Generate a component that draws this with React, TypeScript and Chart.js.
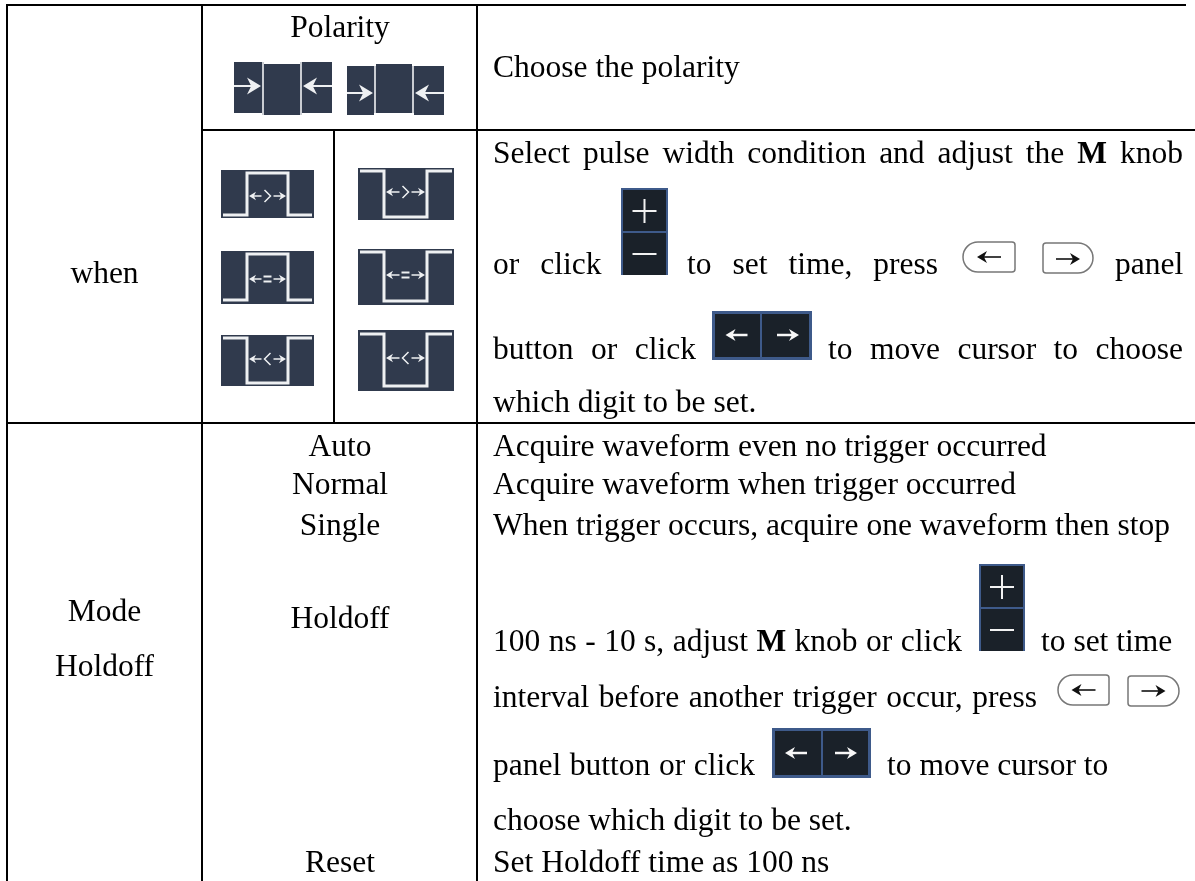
import React, { useEffect, useRef } from "react";
import { Chart, registerables } from "chart.js";

Chart.register(...registerables);

const WIDTH = 1195;
const HEIGHT = 881;
const FONT_SIZE = 31.5;
const FONT_FAMILY = '"Liberation Serif", serif';

// Table text
const conditionLabel = "when";
const polarityLabel = "Polarity";
const polarityNote = "Choose the polarity";
const modeLabels = ["Mode", "Holdoff"];
const modeNames = ["Auto", "Normal", "Single", "Holdoff", "Reset"];
const modeNotes = [
  "Acquire waveform even no trigger occurred",
  "Acquire waveform when trigger occurred",
  "When trigger occurs, acquire one waveform then stop",
  "Set Holdoff time as 100 ns",
];
const boldKey = "M";
const pulseSymbols = [">", ">", "=", "=", "<", "<"];

type Part = [string, boolean];
type Run = { parts: Part[]; x: number; y: number; end?: number };

const runs: Run[] = [
  { parts: [["Select pulse width condition and adjust the ", false], [boldKey, true], [" knob", false]], x: 493, y: 163, end: 1183 },
  { parts: [["or click", false]], x: 493, y: 274, end: 601.5 },
  { parts: [["to set time, press", false]], x: 687, y: 274, end: 938 },
  { parts: [["panel", false]], x: 1115, y: 274 },
  { parts: [["button or click", false]], x: 493, y: 359, end: 696 },
  { parts: [["to move cursor to choose", false]], x: 828, y: 359, end: 1183 },
  { parts: [["which digit to be set.", false]], x: 493, y: 412 },
  { parts: [["100 ns - 10 s, adjust ", false], [boldKey, true], [" knob or click", false]], x: 493, y: 651, end: 962 },
  { parts: [["to set time", false]], x: 1041, y: 651 },
  { parts: [["interval before another trigger occur, press", false]], x: 493, y: 707, end: 1037 },
  { parts: [["panel button or click", false]], x: 493, y: 775, end: 755 },
  { parts: [["to move cursor to", false]], x: 887, y: 775 },
  { parts: [["choose which digit to be set.", false]], x: 493, y: 830 },
];

// Table rules: x1, y1, x2, y2
const rules: number[][] = [
  [7, 5, 1185, 5],
  [202, 130, 1195, 130],
  [7, 423, 1195, 423],
  [7, 5, 7, 881],
  [202, 5, 202, 881],
  [334, 130, 334, 423],
  [477, 5, 477, 881],
];

const centredA = 104.5;
const centredB = 340;

const labelPlacements = [
  { t: polarityLabel, x: centredB, y: 37 },
  { t: conditionLabel, x: centredA, y: 283 },
  { t: modeLabels[0], x: centredA, y: 621 },
  { t: modeLabels[1], x: centredA, y: 676 },
  { t: modeNames[0], x: centredB, y: 456 },
  { t: modeNames[1], x: centredB, y: 494 },
  { t: modeNames[2], x: centredB, y: 535 },
  { t: modeNames[3], x: centredB, y: 628 },
  { t: modeNames[4], x: centredB, y: 872 },
];
const notePlacements = [
  { t: polarityNote, x: 493, y: 77 },
  { t: modeNotes[0], x: 493, y: 456 },
  { t: modeNotes[1], x: 493, y: 494 },
  { t: modeNotes[2], x: 493, y: 535 },
  { t: modeNotes[3], x: 493, y: 872 },
];

const PANEL = "#303a4d";
const TRACE = "#eef0f2";
const BTN = "#1a2129";
const BTN_EDGE = "#3e5a8a";

const pulses = [
  { l: 221, r: 314, t: 170, b: 218, hi: 173, lo: 215, a: 247, c: 288, up: true, ay: 196 },
  { l: 358, r: 454, t: 168, b: 220, hi: 171, lo: 217, a: 384, c: 427, up: false, ay: 192 },
  { l: 221, r: 314, t: 251, b: 304, hi: 254, lo: 300, a: 247, c: 288, up: true, ay: 279 },
  { l: 358, r: 454, t: 249, b: 305, hi: 252, lo: 301, a: 384, c: 427, up: false, ay: 275 },
  { l: 221, r: 314, t: 335, b: 386, hi: 338, lo: 383, a: 247, c: 288, up: false, ay: 359 },
  { l: 358, r: 454, t: 330, b: 391, hi: 334, lo: 386, a: 384, c: 427, up: false, ay: 358 },
];
const polarityIcons = [
  { x: [234, 262, 264, 300, 302, 332], oT: 62, oB: 113, mT: 64, mB: 115, ay: 86 },
  { x: [347, 374, 376, 412, 414, 444], oT: 66, oB: 115, mT: 64, mB: 113, ay: 93 },
];
const stepButtons = [
  { l: 621, r: 668, t: 188, m: 232, b: 275, cx: 644.5, py: 211, my: 254 },
  { l: 979, r: 1025, t: 564, m: 608, b: 651, cx: 1002, py: 587, my: 630 },
];
const arrowButtons = [
  { l: 712, r: 812, t: 311, b: 360, m: 761, la: 736.5, ra: 788, y: 335 },
  { l: 772, r: 871, t: 728, b: 778, m: 822, la: 796, ra: 846, y: 753 },
];
const keys = [
  { l: 963, r: 1015, t: 242, b: 272, dir: -1, ay: 257 },
  { l: 1043, r: 1093, t: 243, b: 273, dir: 1, ay: 259 },
  { l: 1058, r: 1109, t: 675, b: 705, dir: -1, ay: 690 },
  { l: 1128, r: 1179, t: 676, b: 706, dir: 1, ay: 691 },
];

const tablePlugin = {
  id: "tableContent",
  afterDatasetsDraw(chart: any) {
    const ctx: CanvasRenderingContext2D = chart.ctx;
    const px = (v: number) => chart.scales.x.getPixelForValue(v);
    const py = (v: number) => chart.scales.y.getPixelForValue(v);
    const rect = (l: number, t: number, r: number, b: number, fill: string) => {
      ctx.fillStyle = fill;
      ctx.fillRect(px(l), py(t), px(r) - px(l), py(b) - py(t));
    };
    const poly = (pts: number[][], color: string, w: number) => {
      ctx.strokeStyle = color;
      ctx.lineWidth = w;
      ctx.lineJoin = "miter";
      ctx.beginPath();
      pts.forEach(([x, y], i) => (i ? ctx.lineTo(px(x), py(y)) : ctx.moveTo(px(x), py(y))));
      ctx.stroke();
    };
    const arrow = (x1: number, x2: number, y: number, head: number, color: string, w: number) => {
      const d = x2 > x1 ? 1 : -1;
      poly([[x1, y], [x2 - d * head * 0.5, y]], color, w);
      ctx.fillStyle = color;
      ctx.beginPath();
      ctx.moveTo(px(x2), py(y));
      ctx.lineTo(px(x2 - d * head), py(y - head * 0.6));
      ctx.lineTo(px(x2 - d * head * 0.7), py(y));
      ctx.lineTo(px(x2 - d * head), py(y + head * 0.6));
      ctx.closePath();
      ctx.fill();
    };

    ctx.save();
    // polarity icons
    polarityIcons.forEach((p) => {
      rect(p.x[0], p.oT, p.x[1], p.oB, PANEL);
      rect(p.x[2], p.mT, p.x[3], p.mB, PANEL);
      rect(p.x[4], p.oT, p.x[5], p.oB, PANEL);
      poly([[p.x[1] + 1, p.oT], [p.x[1] + 1, p.mB]], "#c9ccd2", 2);
      poly([[p.x[3] + 1, p.oT], [p.x[3] + 1, p.mB]], "#c9ccd2", 2);
      arrow(p.x[0], p.x[1] - 1, p.ay, 14, TRACE, 2);
      arrow(p.x[5], p.x[4] + 1, p.ay, 14, TRACE, 2);
    });
    // pulse condition icons
    pulses.forEach((p, i) => {
      rect(p.l, p.t, p.r, p.b, PANEL);
      const a = p.up ? p.lo : p.hi;
      const c = p.up ? p.hi : p.lo;
      poly([[p.l + 2, a], [p.a, a], [p.a, c], [p.c, c], [p.c, a], [p.r - 2, a]], TRACE, 3);
      const mid = (p.a + p.c) / 2;
      arrow(mid - 6, p.a + 2, p.ay, 7, TRACE, 1.5);
      arrow(mid + 6, p.c - 2, p.ay, 7, TRACE, 1.5);
      const s = pulseSymbols[i];
      if (s === "=") {
        poly([[mid - 4, p.ay - 2.5], [mid + 4, p.ay - 2.5]], TRACE, 2);
        poly([[mid - 4, p.ay + 2.5], [mid + 4, p.ay + 2.5]], TRACE, 2);
      } else {
        const d = s === ">" ? 1 : -1;
        poly([[mid - 3 * d, p.ay - 6], [mid + 3 * d, p.ay], [mid - 3 * d, p.ay + 6]], TRACE, 1.5);
      }
    });
    // +/- buttons
    stepButtons.forEach((b) => {
      rect(b.l, b.t, b.r, b.b, BTN_EDGE);
      rect(b.l + 2, b.t + 2, b.r - 2, b.m - 1, BTN);
      rect(b.l + 2, b.m + 1, b.r - 2, b.b, BTN);
      poly([[b.cx - 12, b.py], [b.cx + 12, b.py]], "#f2f2f2", 2);
      poly([[b.cx, b.py - 12], [b.cx, b.py + 12]], "#f2f2f2", 2);
      poly([[b.cx - 12, b.my], [b.cx + 12, b.my]], "#f2f2f2", 2);
    });
    // arrow buttons
    arrowButtons.forEach((b) => {
      rect(b.l, b.t, b.r, b.b, BTN_EDGE);
      rect(b.l + 3, b.t + 3, b.m - 1, b.b - 3, BTN);
      rect(b.m + 1, b.t + 3, b.r - 3, b.b - 3, BTN);
      arrow(b.la + 11, b.la - 11, b.y, 10, "#f7f7f7", 2.5);
      arrow(b.ra - 11, b.ra + 11, b.y, 10, "#f7f7f7", 2.5);
    });
    // panel keys
    keys.forEach((k) => {
      const l = px(k.l), r = px(k.r), t = py(k.t), b = py(k.b);
      const radius = (b - t) / 2;
      ctx.strokeStyle = "#777";
      ctx.lineWidth = 1.5;
      ctx.beginPath();
      ctx.roundRect(
        l, t, r - l, b - t,
        k.dir < 0 ? [radius, 3, 3, radius] : [3, radius, radius, 3]
      );
      ctx.stroke();
      const c = (k.l + k.r) / 2;
      arrow(c - k.dir * 12, c + k.dir * 12, k.ay, 10, "#111", 1.6);
    });

    // text
    ctx.fillStyle = "#000";
    ctx.textBaseline = "alphabetic";
    const regular = `${FONT_SIZE}px ${FONT_FAMILY}`;
    const bold = `bold ${FONT_SIZE}px ${FONT_FAMILY}`;
    ctx.font = regular;
    ctx.textAlign = "center";
    labelPlacements.forEach((l) => ctx.fillText(l.t, px(l.x), py(l.y)));
    ctx.textAlign = "left";
    notePlacements.forEach((l) => ctx.fillText(l.t, px(l.x), py(l.y)));
    runs.forEach((run) => {
      let natural = 0;
      let spaces = 0;
      run.parts.forEach(([t, b]) => {
        ctx.font = b ? bold : regular;
        natural += ctx.measureText(t).width;
        spaces += (t.match(/ /g) || []).length;
      });
      const extra = run.end !== undefined && spaces ? (run.end - run.x - natural) / spaces : 0;
      let x = px(run.x);
      (ctx as any).wordSpacing = `${extra}px`;
      run.parts.forEach(([t, b]) => {
        ctx.font = b ? bold : regular;
        ctx.fillText(t, x, py(run.y));
        x += ctx.measureText(t).width;
      });
      (ctx as any).wordSpacing = "0px";
    });
    ctx.restore();
  },
};

export default function App() {
  const ref = useRef<HTMLCanvasElement>(null);
  useEffect(() => {
    document.body.style.margin = "0";
    const chart = new Chart(ref.current!, {
      type: "line",
      data: {
        datasets: rules.map((r) => ({
          data: [
            { x: r[0], y: r[1] },
            { x: r[2], y: r[3] },
          ],
          borderColor: "#000",
          borderWidth: 2,
          pointRadius: 0,
          borderCapStyle: "square" as const,
        })),
      },
      options: {
        responsive: false,
        animation: false,
        layout: { padding: 0 },
        plugins: { legend: { display: false }, tooltip: { enabled: false } },
        scales: {
          x: { type: "linear", min: 0, max: WIDTH, display: false },
          y: { type: "linear", min: 0, max: HEIGHT, reverse: true, display: false },
        },
      },
      plugins: [tablePlugin],
    });
    return () => chart.destroy();
  }, []);
  return (
    <div style={{ position: "absolute", left: 0, top: 0, width: WIDTH, height: HEIGHT, background: "#fff" }}>
      <canvas ref={ref} width={WIDTH} height={HEIGHT} style={{ display: "block" }} />
    </div>
  );
}
